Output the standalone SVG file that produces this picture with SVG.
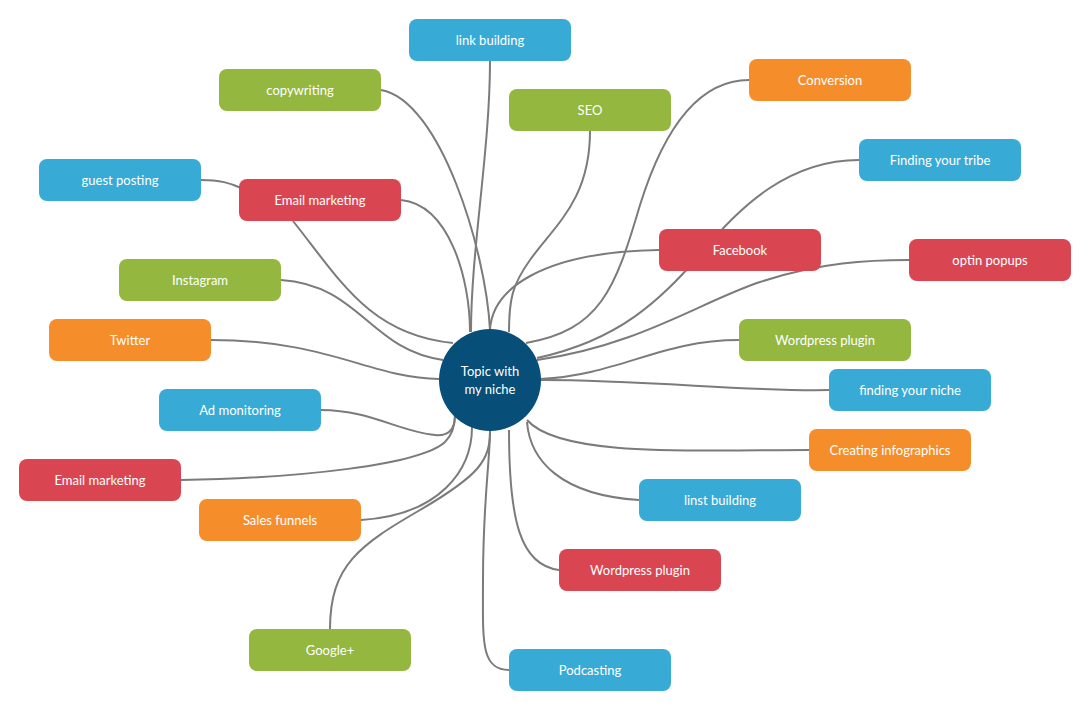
<svg xmlns="http://www.w3.org/2000/svg" width="1090" height="710" viewBox="0 0 1090 710">
<style>
.c{fill:none;stroke:#7b7b7b;stroke-width:2}
.n{stroke:none}
.blue{fill:#37abd6}
.green{fill:#93b73f}
.orange{fill:#f58d2b}
.red{fill:#d94651}
.t{font-family:Lato,"Open Sans","Liberation Sans",sans-serif;font-size:13px;fill:#ffffff;text-anchor:middle;dominant-baseline:central}
</style>
<rect width="1090" height="710" fill="#ffffff"/>
<g id="connectors">
<path class="c" d="M490,61 C490,150 471,250 471,332"/>
<path class="c" d="M381,90 C440,100 486,250 490,330"/>
<path class="c" d="M401,200 C450,205 470,280 470,332"/>
<path class="c" d="M201,180 C220,180 230,183 241,188"/>
<path class="c" d="M293,221 C340,280 370,335 453,343"/>
<path class="c" d="M281,280 C360,285 370,350 443,360"/>
<path class="c" d="M211,340 C330,340 370,378 439,379"/>
<path class="c" d="M321,410 C370,410 400,432 435,435 Q455,437 455,415"/>
<path class="c" d="M181,480 C300,478 420,465 445,442 Q455,432 455,415"/>
<path class="c" d="M361,520 C440,515 472,470 472,427"/>
<path class="c" d="M330,629 C330,565 360,545 420,510 C480,475 490,460 490,431"/>
<path class="c" d="M509,670 C480,670 483,640 483,580 C483,500 490,460 490,431"/>
<path class="c" d="M559,570 C520,565 509,520 509,430"/>
<path class="c" d="M639,500 C560,495 530,460 527,422"/>
<path class="c" d="M809,450 C700,450 560,458 527,420"/>
<path class="c" d="M829,390 C750,392 650,380 541,380"/>
<path class="c" d="M739,340 C660,340 620,375 540,379"/>
<path class="c" d="M909,260 C870,260 820,262 760,282 C700,302 640,345 537,360"/>
<path class="c" d="M859,160 C790,160 740,205 700,255 C660,300 620,340 537,358"/>
<path class="c" d="M749,80 C700,80 665,125 640,205 C615,290 600,330 526,343"/>
<path class="c" d="M590,131 C590,200 555,225 530,260 C512,285 509,300 509,332"/>
<path class="c" d="M490,330 C492,290 540,252 659,250"/>
</g>
<g id="center">
<circle cx="490" cy="380" r="51" fill="#074e78"/>
<text class="t" x="490" y="371">Topic with</text>
<text class="t" x="490" y="389">my niche</text>
</g>
<g id="n-link-building"><rect class="blue" x="409" y="19" width="162" height="42" rx="8"/><text class="t" x="490" y="40">link building</text></g>
<g id="n-copywriting"><rect class="green" x="219" y="69" width="162" height="42" rx="8"/><text class="t" x="300" y="90">copywriting</text></g>
<g id="n-seo"><rect class="green" x="509" y="89" width="162" height="42" rx="8"/><text class="t" x="590" y="110">SEO</text></g>
<g id="n-conversion"><rect class="orange" x="749" y="59" width="162" height="42" rx="8"/><text class="t" x="830" y="80">Conversion</text></g>
<g id="n-guest-posting"><rect class="blue" x="39" y="159" width="162" height="42" rx="8"/><text class="t" x="120" y="180">guest posting</text></g>
<g id="n-email-marketing-top"><rect class="red" x="239" y="179" width="162" height="42" rx="8"/><text class="t" x="320" y="200">Email marketing</text></g>
<g id="n-finding-tribe"><rect class="blue" x="859" y="139" width="162" height="42" rx="8"/><text class="t" x="940" y="160">Finding your tribe</text></g>
<g id="n-facebook"><rect class="red" x="659" y="229" width="162" height="42" rx="8"/><text class="t" x="740" y="250">Facebook</text></g>
<g id="n-optin"><rect class="red" x="909" y="239" width="162" height="42" rx="8"/><text class="t" x="990" y="260">optin popups</text></g>
<g id="n-instagram"><rect class="green" x="119" y="259" width="162" height="42" rx="8"/><text class="t" x="200" y="280">Instagram</text></g>
<g id="n-twitter"><rect class="orange" x="49" y="319" width="162" height="42" rx="8"/><text class="t" x="130" y="340">Twitter</text></g>
<g id="n-wordpress-green"><rect class="green" x="739" y="319" width="172" height="42" rx="8"/><text class="t" x="825" y="340">Wordpress plugin</text></g>
<g id="n-finding-niche"><rect class="blue" x="829" y="369" width="162" height="42" rx="8"/><text class="t" x="910" y="390">finding your niche</text></g>
<g id="n-ad-monitoring"><rect class="blue" x="159" y="389" width="162" height="42" rx="8"/><text class="t" x="240" y="410">Ad monitoring</text></g>
<g id="n-infographics"><rect class="orange" x="809" y="429" width="162" height="42" rx="8"/><text class="t" x="890" y="450">Creating infographics</text></g>
<g id="n-email-marketing-bottom"><rect class="red" x="19" y="459" width="162" height="42" rx="8"/><text class="t" x="100" y="480">Email marketing</text></g>
<g id="n-linst-building"><rect class="blue" x="639" y="479" width="162" height="42" rx="8"/><text class="t" x="720" y="500">linst building</text></g>
<g id="n-sales-funnels"><rect class="orange" x="199" y="499" width="162" height="42" rx="8"/><text class="t" x="280" y="520">Sales funnels</text></g>
<g id="n-wordpress-red"><rect class="red" x="559" y="549" width="162" height="42" rx="8"/><text class="t" x="640" y="570">Wordpress plugin</text></g>
<g id="n-google-plus"><rect class="green" x="249" y="629" width="162" height="42" rx="8"/><text class="t" x="330" y="650">Google+</text></g>
<g id="n-podcasting"><rect class="blue" x="509" y="649" width="162" height="42" rx="8"/><text class="t" x="590" y="670">Podcasting</text></g>
</svg>
